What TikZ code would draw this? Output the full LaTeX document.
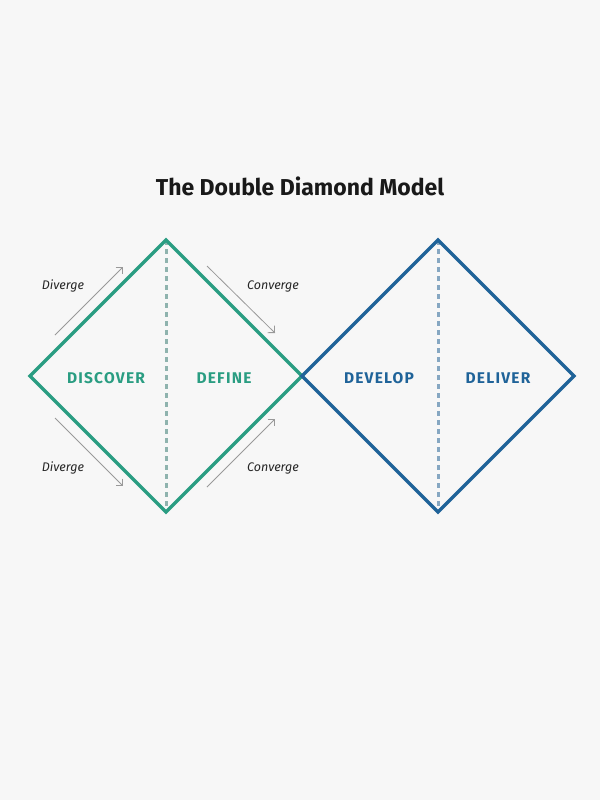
\documentclass[tikz,border=0pt]{standalone}
\usepackage{fontspec}
\setmainfont{Fira Sans}
\usepackage{xcolor}
\definecolor{bgGray}{HTML}{F7F7F7}
\definecolor{darkGreen}{HTML}{2A9D82}
\definecolor{darkBlue}{HTML}{1F6399}
\definecolor{dashGreen}{HTML}{8FB3AE}
\definecolor{dashBlue}{HTML}{86A7C2}
\usetikzlibrary{arrows.meta}

\begin{document}
\begin{tikzpicture}[x=1pt, y=-1pt,
  diamond line/.style={line width=3.5pt, line join=miter},
  mid line/.style={line width=3pt, dash pattern=on 5pt off 4pt},
  phase/.style={font=\fontsize{15.5}{18}\selectfont\bfseries\addfontfeature{LetterSpace=8}},
  flow/.style={-{Straight Barb[length=5pt]}, draw=gray!80, line width=0.8pt},
  flow label/.style={font=\fontsize{12.5}{14}\selectfont\itshape, text=black!85}]
  \fill[bgGray] (0,0) rectangle (600,800);
  \useasboundingbox (0,0) rectangle (600,800);

  \node[font=\fontsize{23}{26}\selectfont\bfseries, text=black!90] (title) at (300,186) {The Double Diamond Model};

  % first diamond
  \coordinate (aL) at (30,376);  \coordinate (aT) at (166,240);
  \coordinate (aR) at (302,376); \coordinate (aB) at (166,512);
  % second diamond
  \coordinate (bL) at (302,376); \coordinate (bT) at (438,240);
  \coordinate (bR) at (574,376); \coordinate (bB) at (438,512);

  \draw[mid line, dashGreen] (aT) -- (aB);
  \draw[mid line, dashBlue] (bT) -- (bB);
  \draw[diamond line, darkGreen] (aL) -- (aT) -- (aR) -- (aB) -- cycle;
  \draw[diamond line, darkBlue] (bL) -- (bT) -- (bR) -- (bB) -- cycle;

  \node[phase, text=darkGreen] (discover) at (106,378) {DISCOVER};
  \node[phase, text=darkGreen] (define) at (224,378) {DEFINE};
  \node[phase, text=darkBlue] (develop) at (379,378) {DEVELOP};
  \node[phase, text=darkBlue] (deliver) at (498,378) {DELIVER};

  % flow arrows
  \coordinate (f1s) at (55,335);  \coordinate (f1e) at (123,267);
  \coordinate (f2s) at (207,266); \coordinate (f2e) at (275,333);
  \coordinate (f3s) at (55,418);  \coordinate (f3e) at (123,486);
  \coordinate (f4s) at (207,487); \coordinate (f4e) at (275,419);
  \draw[flow] (f1s) -- (f1e);
  \draw[flow] (f2s) -- (f2e);
  \draw[flow] (f3s) -- (f3e);
  \draw[flow] (f4s) -- (f4e);

  \node[flow label] (div1) at (63,286) {Diverge};
  \node[flow label] (con1) at (273,286) {Converge};
  \node[flow label] (div2) at (63,468) {Diverge};
  \node[flow label] (con2) at (273,468) {Converge};
\end{tikzpicture}
\end{document}
